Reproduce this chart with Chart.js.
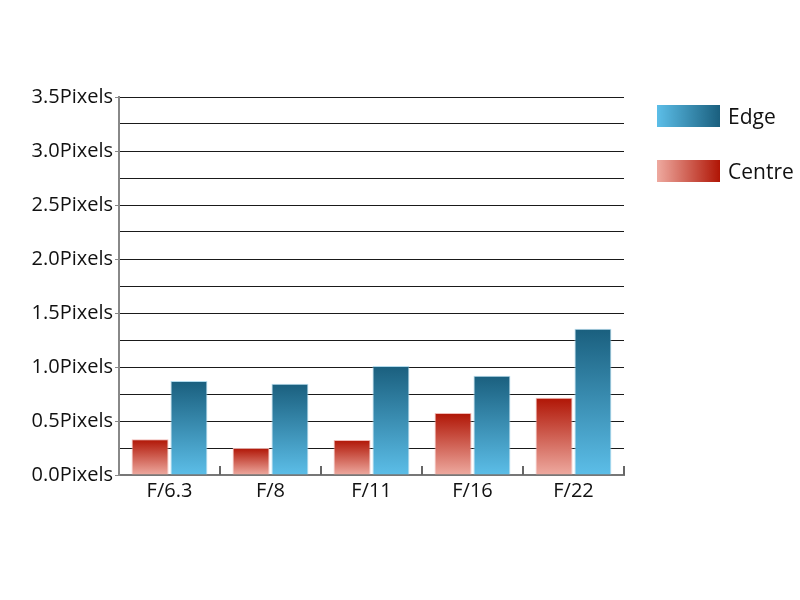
<!DOCTYPE html>
<html>
<head>
<meta charset="utf-8">
<script src="https://cdn.jsdelivr.net/npm/chart.js@4"></script>
<style>
  body { margin: 0; background: #fff; }
  #wrap { position: relative; width: 800px; height: 600px; }
  .legend-item { position: absolute; left: 657px; height: 22px; font-family: "Open Sans", sans-serif; font-size: 21px; color: #111; }
  .legend-item .box { position: absolute; left: 0; top: 0; width: 63px; height: 22px; }
  .legend-item .label { position: absolute; left: 71px; top: -3px; white-space: nowrap; }
</style>
</head>
<body>
<div id="wrap">
  <canvas id="chart" width="800" height="600"></canvas>
  <div class="legend-item" style="top:105px"><div class="box" style="background:linear-gradient(to right,#5cbee8,#1a5f7e)"></div><div class="label">Edge</div></div>
  <div class="legend-item" style="top:160px"><div class="box" style="background:linear-gradient(to right,#eeaaa0,#b01505)"></div><div class="label">Centre</div></div>
</div>
<script>
const categories = ['F/6.3', 'F/8', 'F/11', 'F/16', 'F/22'];
const centreValues = [0.33, 0.25, 0.325, 0.575, 0.715];
const edgeValues = [0.87, 0.845, 1.01, 0.92, 1.355];
const yMax = 3.5;
const yStep = 0.25;

const ctx = document.getElementById('chart').getContext('2d');

const isMajor = v => Math.round(v * 100) % 50 === 0;

// vertical gradient per bar, dark at the top, light at the bottom
function barGradient(context, top, bottom) {
    const chart = context.chart;
    const y = chart.scales.y;
    if (!y || !context.parsed) return top;
    const yTop = y.getPixelForValue(context.parsed.y);
    const yBottom = y.getPixelForValue(0);
    if (!isFinite(yTop) || !isFinite(yBottom)) return top;
    const g = chart.ctx.createLinearGradient(0, yTop, 0, yBottom);
    g.addColorStop(0, top);
    g.addColorStop(1, bottom);
    return g;
}

// short inward ticks on the category axis, at the category boundaries
const categoryTicks = {
    id: 'categoryTicks',
    afterDatasetsDraw(chart) {
        const x = chart.scales.x;
        const y = chart.scales.y;
        const c = chart.ctx;
        const base = y.getPixelForValue(0);
        const n = categories.length;
        c.save();
        c.strokeStyle = '#666';
        c.lineWidth = 2;
        for (let i = 1; i <= n; i++) {
            const px = i < n ? (x.getPixelForValue(i - 1) + x.getPixelForValue(i)) / 2 : x.right;
            c.beginPath();
            c.moveTo(px, base);
            c.lineTo(px, base - 9);
            c.stroke();
        }
        c.restore();
    }
};

Chart.defaults.font.family = '"Open Sans", sans-serif';
Chart.defaults.color = '#111';

new Chart(ctx, {
    type: 'bar',
    data: {
        labels: categories,
        datasets: [{
            label: 'Centre',
            data: centreValues,
            backgroundColor: c => barGradient(c, '#b01505', '#eeaaa0'),
            borderColor: 'rgba(240,180,175,0.9)',
            borderWidth: 1,
            borderSkipped: 'bottom'
        }, {
            label: 'Edge',
            data: edgeValues,
            backgroundColor: c => barGradient(c, '#1a5f7e', '#5cbee8'),
            borderColor: 'rgba(170,215,235,0.9)',
            borderWidth: 1,
            borderSkipped: 'bottom'
        }]
    },
    options: {
        responsive: false,
        animation: false,
        layout: { padding: { left: 0, top: 97, right: 176, bottom: 101 } },
        categoryPercentage: 0.77,
        barPercentage: 0.95,
        plugins: {
            legend: { display: false },
            tooltip: { enabled: false }
        },
        scales: {
            x: {
                grid: { display: false },
                border: { color: '#777', width: 2 },
                ticks: { font: { size: 20 }, color: '#111', padding: -4 }
            },
            y: {
                min: 0,
                max: yMax,
                afterFit(scale) { scale.width = 119; },
                border: { color: '#888', width: 2 },
                grid: {
                    color: '#1a1a1a',
                    lineWidth: 1,
                    tickLength: 4,
                    tickColor: c => isMajor(c.tick.value) ? '#888' : 'rgba(0,0,0,0)'
                },
                ticks: {
                    stepSize: yStep,
                    font: { size: 20 },
                    color: '#111',
                    padding: 2,
                    autoSkip: false,
                    callback: v => isMajor(v) ? v.toFixed(1) + 'Pixels' : ''
                }
            }
        }
    },
    plugins: [categoryTicks]
});
</script>
</body>
</html>
